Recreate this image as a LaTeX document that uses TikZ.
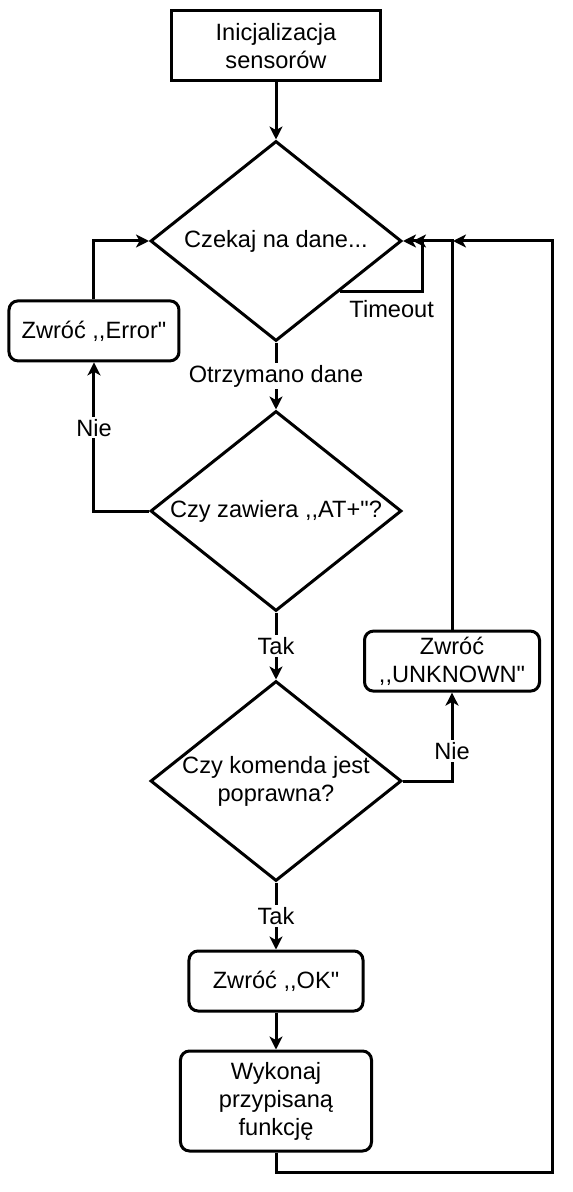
\documentclass[tikz,border=0pt]{standalone}
\usepackage{fontspec}
\setmainfont{Liberation Sans}[Ligatures=TeXOff]
\usetikzlibrary{arrows.meta,positioning,shapes.geometric}

\begin{document}
\begin{tikzpicture}[
  node distance=33.5pt,
  line width=1.5pt,
  font=\fontsize{11.8}{14}\selectfont,
  startbox/.style={draw,minimum width=104pt,minimum height=35pt,align=center,inner sep=2pt},
  proc/.style={draw,rounded corners=4.5pt,minimum height=30pt,align=center,inner sep=2pt},
  decision/.style={draw,diamond,minimum width=125.5pt,minimum height=100pt,inner sep=0pt},
  dtext/.style={align=center,inner sep=0pt},
  arr/.style={-{Stealth[length=6.5pt,width=6.5pt,inset=1.8pt]}},
  ann/.style={fill=white,inner sep=1pt}
]
\useasboundingbox (-138pt,23pt) rectangle (148pt,-573pt);
\node[startbox] (init) at (0,0) {Inicjalizacja\\sensorów};
\node[decision,below=28.5pt of init,label={[dtext]center:Czekaj na dane...}] (wait) {};
\node[decision,below=of wait,label={[dtext]center:Czy zawiera ,,AT+"?}] (check) {};
\node[decision,below=of check,label={[dtext]center:Czy komenda jest\\poprawna?}] (cmd) {};
\node[proc,minimum width=87pt,below=of cmd] (ok) {Zwróć ,,OK"};
\node[proc,minimum width=95.5pt,minimum height=50pt,below=18.5pt of ok] (run) {Wykonaj\\przypisaną\\funkcję};
\node[proc,minimum width=85pt,below=29.2pt of wait.west,xshift=-27.5pt] (err) {Zwróć ,,Error"};
\node[proc,minimum width=87.5pt,above=44.2pt of cmd.east,xshift=24.5pt] (unk) {Zwróć\\,,UNKNOWN"};
\draw[arr] (init) -- (wait);
\draw[arr] (wait) -- node[ann] {Otrzymano dane} (check);
\draw[arr] (check) -- node[ann] {Tak} (cmd);
\draw[arr] (cmd) -- node[ann] {Tak} (ok);
\draw[arr] (ok) -- (run);
\draw[arr] (check.west) -| node[ann,pos=0.78] {Nie} (err);
\draw[arr] (err) |- (wait.west);
\draw[arr] (cmd.east) -| node[ann,pos=0.67] {Nie} (unk);
\draw[arr] (wait.south east) -- node[below=2.5pt,pos=0.63,inner sep=1pt] {Timeout} ++(41.4pt,0) |- (wait.east);
\draw[arr] (unk) |- ([xshift=5pt]wait.east);
\draw[arr] (run.south) -- ++(0,-10pt) -| ([xshift=74.5pt]wait.east) -- ([xshift=25pt]wait.east);
\end{tikzpicture}
\end{document}
